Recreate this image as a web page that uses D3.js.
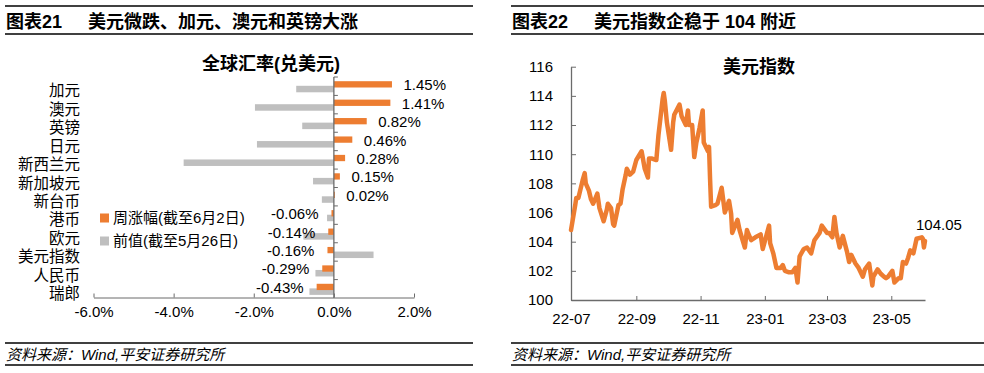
<!DOCTYPE html>
<html>
<head>
<meta charset="UTF-8">
<script src="https://cdn.jsdelivr.net/npm/d3@7"></script>
<style>
    body { margin: 0; background: #fff; }
    svg text { font-family: "Liberation Sans", Arial, "Noto Sans CJK SC", sans-serif; fill: #000; }
</style>
</head>
<body>
<svg id="chart" width="984" height="373"></svg>
<script>
// ---- left panel: weekly FX moves vs USD
var currencies = ["加元", "澳元", "英镑", "日元", "新西兰元", "新加坡元", "新台币", "港币", "欧元", "美元指数", "人民币", "瑞郎"];
var weekChg = [1.45, 1.41, 0.82, 0.46, 0.28, 0.15, 0.02, -0.06, -0.14, -0.16, -0.29, -0.43];
var prevChg = [-0.94, -1.97, -0.79, -1.92, -3.75, -0.52, -0.30, -0.17, -0.76, 0.99, -0.46, -0.61];
var pctTicks = [-6, -4, -2, 0, 2];
var legendNames = ["周涨幅(截至6月2日)", "前值(截至5月26日)"];

// ---- right panel: dollar index
var dxyDates = ["2022-07-01", "2022-07-05", "2022-07-06", "2022-07-08", "2022-07-12", "2022-07-14", "2022-07-15", "2022-07-18",
    "2022-07-20", "2022-07-22", "2022-07-26", "2022-07-28", "2022-08-01", "2022-08-04", "2022-08-05", "2022-08-08",
    "2022-08-10", "2022-08-11", "2022-08-15", "2022-08-17", "2022-08-19", "2022-08-22", "2022-08-23", "2022-08-26",
    "2022-08-29", "2022-09-01", "2022-09-06", "2022-09-09", "2022-09-12", "2022-09-13", "2022-09-16", "2022-09-20",
    "2022-09-22", "2022-09-26", "2022-09-27", "2022-09-28", "2022-09-30", "2022-10-04", "2022-10-06", "2022-10-07",
    "2022-10-12", "2022-10-14", "2022-10-18", "2022-10-20", "2022-10-21", "2022-10-24", "2022-10-26", "2022-10-28",
    "2022-10-31", "2022-11-03", "2022-11-04", "2022-11-08", "2022-11-09", "2022-11-10", "2022-11-11", "2022-11-15",
    "2022-11-17", "2022-11-21", "2022-11-24", "2022-11-28", "2022-11-30", "2022-12-01", "2022-12-05", "2022-12-06",
    "2022-12-08", "2022-12-13", "2022-12-15", "2022-12-16", "2022-12-19", "2022-12-23", "2022-12-28", "2022-12-30",
    "2023-01-05", "2023-01-06", "2023-01-09", "2023-01-12", "2023-01-16", "2023-01-18", "2023-01-20", "2023-01-24",
    "2023-01-27", "2023-01-30", "2023-02-01", "2023-02-03", "2023-02-07", "2023-02-10", "2023-02-14", "2023-02-17",
    "2023-02-22", "2023-02-24", "2023-03-01", "2023-03-03", "2023-03-06", "2023-03-08", "2023-03-10", "2023-03-13",
    "2023-03-16", "2023-03-20", "2023-03-22", "2023-03-24", "2023-03-28", "2023-03-31", "2023-04-04", "2023-04-06",
    "2023-04-10", "2023-04-13", "2023-04-14", "2023-04-18", "2023-04-21", "2023-04-24", "2023-04-26", "2023-04-28",
    "2023-05-02", "2023-05-04", "2023-05-08", "2023-05-10", "2023-05-12", "2023-05-15", "2023-05-17", "2023-05-19",
    "2023-05-22", "2023-05-25", "2023-05-30", "2023-05-31", "2023-06-01", "2023-06-02"];
var dxyValues = [104.8, 106.5, 107.0, 107.0, 108.2, 108.7, 108.0, 107.5,
    106.9, 106.6, 107.3, 106.3, 105.4, 106.2, 106.6, 106.3,
    105.2, 105.1, 106.5, 106.6, 107.6, 108.6, 109.0, 108.6,
    108.8, 109.6, 110.2, 109.0, 108.4, 109.7, 109.7, 109.6,
    111.3, 113.8, 114.2, 113.7, 112.2, 110.3, 112.2, 112.7,
    113.4, 112.6, 112.0, 113.0, 112.0, 112.0, 109.8, 110.8,
    111.8, 113.0, 110.8, 110.2, 110.5, 108.3, 106.4, 106.5,
    106.6, 107.7, 106.0, 106.8, 105.9, 104.6, 105.3, 105.5,
    104.8, 103.6, 104.8, 104.6, 104.1, 104.3, 104.5, 103.5,
    105.1, 103.9, 103.2, 102.2, 102.2, 102.4, 102.0, 101.9,
    101.9, 102.2, 101.2, 103.0, 103.5, 103.6, 103.2, 104.1,
    104.6, 105.1, 104.6, 104.6, 104.3, 105.7, 104.6, 103.6,
    104.4, 103.3, 102.6, 103.1, 102.5, 102.2, 101.6, 102.1,
    102.5, 101.0, 101.6, 102.1, 101.8, 101.6, 101.5, 101.6,
    102.0, 101.2, 101.5, 101.5, 102.6, 102.5, 102.9, 103.4,
    103.2, 104.2, 104.3, 104.2, 103.6, 104.05];
var dxyTicks = [100, 102, 104, 106, 108, 110, 112, 114, 116];
var monthTicks = ["2022-07-01", "2022-09-01", "2022-11-01", "2023-01-01", "2023-03-01", "2023-05-01"];

var ORANGE = "#ED7D31", GRAY = "#BFBFBF", AXIS = "#6b6b6b";
var svg = d3.select("#chart");

// header / footer rules and titles
function frame(x0, x1, num, title) {
    [6, 34, 343, 365].forEach(function (y) {
        svg.append("line").attr("x1", x0).attr("x2", x1).attr("y1", y).attr("y2", y)
            .attr("stroke", "#000").attr("stroke-width", 1.3);
    });
    var t = svg.append("text").attr("x", x0 + 1).attr("y", 28)
        .style("font-size", "18px").style("font-weight", "bold");
    t.append("tspan").text(num);
    t.append("tspan").attr("x", x0 + 83).text(title);
    svg.append("text").attr("x", x0 + 1).attr("y", 360)
        .style("font-size", "15px").style("font-style", "italic")
        .text("资料来源：Wind,平安证券研究所");
}
frame(5, 473, "图表21", "美元微跌、加元、澳元和英镑大涨");
frame(511, 984, "图表22", "美元指数企稳于 104 附近");

// ================= left chart
var x = d3.scaleLinear().domain([-6, 2]).range([93.5, 414]);
var y = d3.scaleBand().domain(currencies).range([77, 298]);
var bw = y.step();

svg.append("text").attr("x", 271).attr("y", 70).attr("text-anchor", "middle")
    .style("font-size", "18px").style("font-weight", "bold").text("全球汇率(兑美元)");

var left = svg.append("g");

left.selectAll("rect.prev").data(currencies).enter().append("rect")
    .attr("x", function (d, i) { return Math.min(x(0), x(prevChg[i])); })
    .attr("width", function (d, i) { return Math.abs(x(prevChg[i]) - x(0)); })
    .attr("y", function (d) { return y(d) + 8.8; })
    .attr("height", 6.5)
    .attr("fill", GRAY);

left.selectAll("rect.week").data(currencies).enter().append("rect")
    .attr("x", function (d, i) { return Math.min(x(0), x(weekChg[i])); })
    .attr("width", function (d, i) { return Math.max(1, Math.abs(x(weekChg[i]) - x(0))); })
    .attr("y", function (d) { return y(d) + 4.2; })
    .attr("height", 6.3)
    .attr("fill", ORANGE);

left.selectAll("text.val").data(currencies).enter().append("text")
    .attr("x", function (d, i) { return weekChg[i] >= 0 ? x(weekChg[i]) + 11.5 : x(weekChg[i]) - 13; })
    .attr("y", function (d) { return y(d) + 8; })
    .attr("dy", "0.35em")
    .attr("text-anchor", function (d, i) { return weekChg[i] >= 0 ? "start" : "end"; })
    .style("font-size", "15px")
    .text(function (d, i) { return weekChg[i].toFixed(2) + "%"; });

// category labels
left.selectAll("text.cat").data(currencies).enter().append("text")
    .attr("x", 80).attr("y", function (d) { return y(d) + 14; })
    .attr("dy", "0.35em").attr("text-anchor", "end")
    .style("font-size", "15.5px")
    .text(function (d) { return d; });

// zero axis with category ticks
var xAxisL = left.append("g").attr("transform", "translate(0,297.5)")
    .call(d3.axisBottom(x).tickValues(pctTicks).tickSizeInner(-4).tickSizeOuter(0)
        .tickFormat(function (d) { return d.toFixed(1) + "%"; }));
xAxisL.select(".domain").attr("stroke", AXIS);
xAxisL.selectAll(".tick line").attr("stroke", AXIS);
xAxisL.selectAll(".tick text").attr("y", 14).attr("dy", "0.35em").style("font-size", "15px").attr("fill", "#000");
xAxisL.attr("font-family", null);

var zero = left.append("g");
zero.append("line").attr("x1", x(0)).attr("x2", x(0)).attr("y1", 77).attr("y2", 298)
    .attr("stroke", AXIS).attr("stroke-width", 1.3);
zero.selectAll("line.ct").data(d3.range(currencies.length)).enter().append("line")
    .attr("x1", x(0)).attr("x2", x(0) + 4)
    .attr("y1", function (i) { return 77 + i * bw; })
    .attr("y2", function (i) { return 77 + i * bw; })
    .attr("stroke", AXIS);

// legend
var legendColors = [ORANGE, GRAY];
var lg = left.selectAll("g.leg").data(legendNames).enter().append("g")
    .attr("transform", function (d, i) { return "translate(100," + (218 + i * 23) + ")"; });
lg.append("rect").attr("x", 0).attr("y", -4.5).attr("width", 9).attr("height", 9)
    .attr("fill", function (d, i) { return legendColors[i]; });
lg.append("text").attr("x", 13).attr("dy", "0.35em").style("font-size", "15px")
    .text(function (d) { return d; });

// ================= right chart
var parse = d3.timeParse("%Y-%m-%d");
var pts = dxyDates.map(function (d, i) { return { date: parse(d), value: dxyValues[i] }; });
var xt = d3.scaleTime().domain([parse("2022-07-01"), parse("2023-06-02")]).range([571, 925]);
var yv = d3.scaleLinear().domain([100, 116]).range([300, 66.7]);

svg.append("text").attr("x", 759).attr("y", 73).attr("text-anchor", "middle")
    .style("font-size", "18px").style("font-weight", "bold").text("美元指数");

var right = svg.append("g");

var yAxisR = right.append("g").attr("transform", "translate(571,0)")
    .call(d3.axisRight(yv).tickValues(dxyTicks).tickSizeInner(5).tickSizeOuter(0));
yAxisR.select(".domain").attr("stroke", AXIS).attr("stroke-width", 1.3);
yAxisR.selectAll(".tick line").attr("stroke", AXIS);
yAxisR.selectAll(".tick text").attr("x", -18).attr("text-anchor", "end").style("font-size", "15px").attr("fill", "#000");
yAxisR.attr("font-family", null);

var xAxisR = right.append("g").attr("transform", "translate(0,300)")
    .call(d3.axisBottom(xt).tickValues(monthTicks.map(parse)).tickSizeInner(-4).tickSizeOuter(0)
        .tickFormat(d3.timeFormat("%y-%m")));
xAxisR.select(".domain").attr("stroke", AXIS).attr("stroke-width", 1.3);
xAxisR.selectAll(".tick line").attr("stroke", AXIS);
xAxisR.selectAll(".tick text").attr("y", 19).attr("dy", "0.35em").style("font-size", "15px").attr("fill", "#000");
xAxisR.attr("font-family", null);

right.append("path").datum(pts)
    .attr("d", d3.line().x(function (d) { return xt(d.date); }).y(function (d) { return yv(d.value); }))
    .attr("fill", "none").attr("stroke", ORANGE).attr("stroke-width", 4.5)
    .attr("stroke-linejoin", "round").attr("stroke-linecap", "round");

var last = pts[pts.length - 1];
right.append("text").attr("x", xt(last.date) - 9).attr("y", yv(last.value) - 16)
    .attr("dy", "0.35em").style("font-size", "15px")
    .text(last.value.toFixed(2));
</script>
</body>
</html>
